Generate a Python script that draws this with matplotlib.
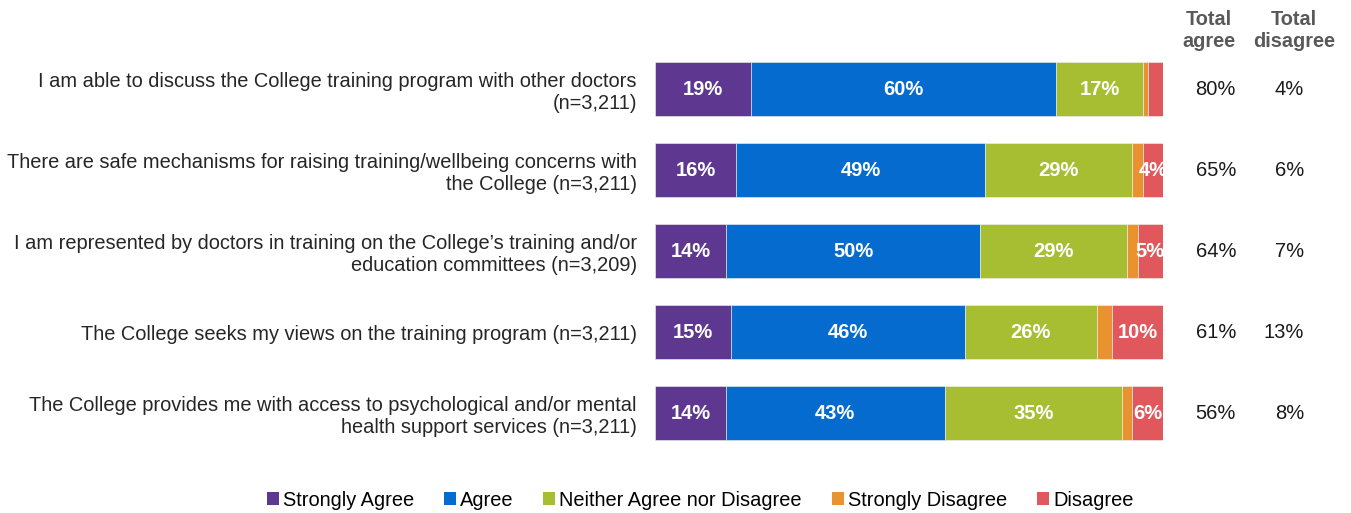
import matplotlib
matplotlib.use("Agg")
from matplotlib import pyplot as plt
from matplotlib.patches import Patch
import numpy as np

plt.rcParams['font.family'] = ['Liberation Sans', 'DejaVu Sans']

# survey items, top to bottom
questions = [
    "I am able to discuss the College training program with other doctors\n(n=3,211)",
    "There are safe mechanisms for raising training/wellbeing concerns with\nthe College (n=3,211)",
    "I am represented by doctors in training on the College\u2019s training and/or\neducation committees (n=3,209)",
    "The College seeks my views on the training program (n=3,211)",
    "The College provides me with access to psychological and/or mental\nhealth support services (n=3,211)",
]

strongly_agree = [19, 16, 14, 15, 14]
agree = [60, 49, 50, 46, 43]
neither = [17, 29, 29, 26, 35]
strongly_disagree = [1, 2, 2, 3, 2]
disagree = [3, 4, 5, 10, 6]

total_agree = ["80%", "65%", "64%", "61%", "56%"]
total_disagree = ["4%", "6%", "7%", "13%", "8%"]

series_names = ["Strongly Agree", "Agree", "Neither Agree nor Disagree",
                "Strongly Disagree", "Disagree"]
colors = ["#5E3890", "#066BCF", "#A8BE32", "#E99330", "#E0585B"]

fig = plt.figure(figsize=(13.51, 5.13), dpi=100)
ax = fig.add_axes([0.4848, 0.116, 0.376, 0.789])

y = np.arange(len(questions))
series = [strongly_agree, agree, neither, strongly_disagree, disagree]
left = np.zeros(len(questions))
for name, vals, col in zip(series_names, series, colors):
    vals = np.array(vals, dtype=float)
    ax.barh(y, vals, left=left, height=0.667, color=col,
            edgecolor='#f2f2f2', linewidth=0.4)
    # label segments large enough (orange never labelled)
    if name != "Strongly Disagree":
        for yi, (l, v) in enumerate(zip(left, vals)):
            if v >= 4:
                t = ax.text(l + v / 2, yi, f"{int(v)}%", ha='center',
                            va='center', color='white', fontsize=14.5,
                            fontweight='bold')
                t.set_clip_on(True)
    left += vals

ax.set_xlim(0, 100)
ax.set_ylim(len(questions) - 0.5, -0.5)
ax.set_yticks(y)
ax.set_yticklabels(questions, fontsize=14.4, color='#262626',
                   linespacing=1.2, ha='right')
ax.tick_params(axis='y', length=0, pad=13)
ax.set_xticks([])
for s in ax.spines.values():
    s.set_visible(False)

# totals columns
for yi in y:
    ax.text(1.104, yi, total_agree[yi], transform=ax.get_yaxis_transform(),
            ha='center', va='center', fontsize=14.5, color='#1a1a1a')
    ax.text(1.2776, yi, total_disagree[yi], transform=ax.get_yaxis_transform(),
            ha='right', va='center', fontsize=14.5, color='#1a1a1a')

fig.text(1209 / 1351, 1 - 31 / 513, "Total\nagree", ha='center', va='center',
         fontsize=14.3, fontweight='bold', color='#595959', linespacing=1.2)
fig.text(1294 / 1351, 1 - 31 / 513, "Total\ndisagree", ha='center', va='center',
         fontsize=14.3, fontweight='bold', color='#595959', linespacing=1.2)

handles = [Patch(facecolor=c, edgecolor='none') for c in colors]
fig.legend(handles, series_names, loc='center', ncol=5,
           bbox_to_anchor=(700 / 1351, 1 - 500 / 513), frameon=False,
           fontsize=14.4, handlelength=0.6, handleheight=0.6,
           handletextpad=0.2, columnspacing=1.5)

fig.savefig("out.png", dpi=100)
